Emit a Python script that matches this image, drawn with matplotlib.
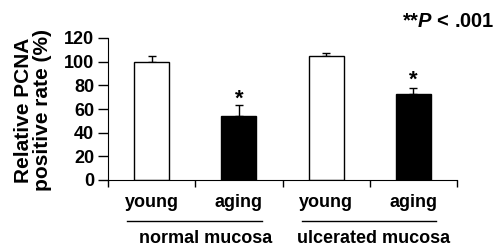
import matplotlib.pyplot as plt
import numpy as np

plt.rcParams['font.family'] = ['Liberation Sans', 'DejaVu Sans']
plt.rcParams['font.weight'] = 'bold'
plt.rcParams['mathtext.fontset'] = 'custom'
plt.rcParams['mathtext.rm'] = 'Liberation Sans:bold'
plt.rcParams['mathtext.bf'] = 'Liberation Sans:bold'
plt.rcParams['mathtext.it'] = 'Liberation Sans:italic:bold'
plt.rcParams['mathtext.bfit'] = 'Liberation Sans:italic:bold'

# data
groups = ['normal mucosa', 'ulcerated mucosa']
conditions = ['young', 'aging', 'young', 'aging']
values = [100, 54, 105, 73]
errors = [5, 9, 2.5, 4.5]
colors = ['white', 'black', 'white', 'black']
star_y = [None, 63.5, None, 79.5]

fig = plt.figure(figsize=(4.96, 2.5), dpi=100)
ax = fig.add_axes([108 / 496, 1 - 180 / 250, 349 / 496, 142 / 250])

x = np.arange(len(values)) + 0.5
ax.bar(x, values, width=0.4, color=colors, edgecolor='black', linewidth=1, zorder=2)
ax.errorbar(x, values, yerr=[np.zeros(len(errors)), errors], fmt='none',
            ecolor='black', elinewidth=1, capsize=3, capthick=1, zorder=1)

for xi, sy in zip(x, star_y):
    if sy is not None:
        ax.text(xi, sy, '*', ha='center', va='baseline', fontsize=16, fontweight='bold')

ax.set_xlim(0, 4)
ax.set_ylim(0, 120)
ax.set_yticks(np.arange(0, 121, 20))
ax.set_xticks(np.arange(0, 5))
ax.set_xticklabels([])
ax.tick_params(axis='y', labelsize=13, length=7, width=1, pad=3)
ax.tick_params(axis='x', length=5, width=1)
for lab in ax.get_yticklabels():
    lab.set_fontweight('bold')
ax.spines['top'].set_visible(False)
ax.spines['right'].set_visible(False)

trans = ax.get_xaxis_transform()
for xi, c in zip(x, conditions):
    ax.text(xi, -0.155, c, transform=trans, ha='center', va='center',
            fontsize=13, fontweight='bold')

# group underlines and names
for i, g in enumerate(groups):
    x0 = 2 * i + 0.22
    x1 = 2 * i + 1.76
    ax.plot([x0, x1], [-0.288, -0.288], transform=trans, color='black',
            linewidth=1, clip_on=False)
    ax.text(2 * i + 1.12 - 0.08 * i, -0.41, g, transform=trans, ha='center', va='center',
            fontsize=13, fontweight='bold')

fig.text(33 / 496, 1 - 110 / 250, 'Relative PCNA\npositive rate (%)', rotation=90,
         ha='center', va='center', fontsize=15, fontweight='bold', linespacing=1.05)

fig.text(0.997, 0.915, r'**$\mathit{P}$ < .001', ha='right', va='center',
         fontsize=14.5, fontweight='bold')

fig.savefig('out.png', dpi=100)
